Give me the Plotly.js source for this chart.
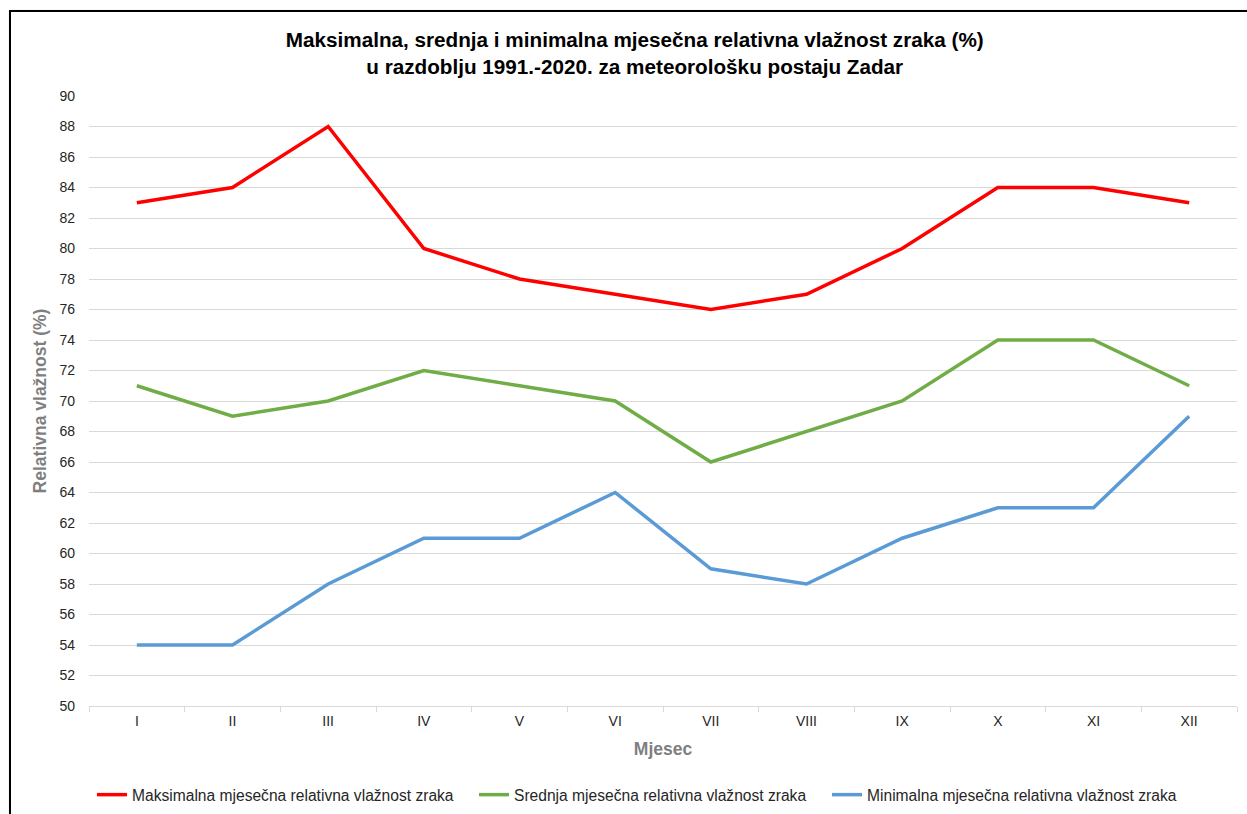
<!DOCTYPE html>
<html>
<head>
<meta charset="utf-8">
<script src="https://cdn.plot.ly/plotly-3.0.1.min.js"></script>
<style>
html,body{margin:0;padding:0;background:#fff;}
#wrap{position:relative;width:1247px;height:814px;overflow:hidden;}
#chart{width:1247px;height:814px;}
#frame{position:absolute;left:9px;top:10px;width:1260px;height:830px;border:2px solid #000;box-shadow:1px 1px 2px #999;pointer-events:none;}
</style>
</head>
<body>
<div id="wrap">
<div id="chart"></div>
<div id="frame"></div>
</div>
<script>
const months = ["I","II","III","IV","V","VI","VII","VIII","IX","X","XI","XII"];
const maxHum = [83,84,88,80,78,77,76,77,80,84,84,83];
const meanHum = [71,69,70,72,71,70,66,68,70,74,74,71];
const minHum = [54,54,58,61,61,64,59,58,61,63,63,69];
const seriesNames = [
  "Maksimalna mjesečna relativna vlažnost zraka",
  "Srednja mjesečna relativna vlažnost zraka",
  "Minimalna mjesečna relativna vlažnost zraka"
];
const colors = ["#FF0000","#70AD47","#5B9BD5"];
const vals = [maxHum, meanHum, minHum];
const legendIds = ["legend","legend2","legend3"];

const traces = vals.map((v,i)=>({
  x: months, y: v, type: "scatter", mode: "lines",
  name: seriesNames[i],
  legend: legendIds[i],
  line: {color: colors[i], width: 3.5}
}));

function legendAt(px){
  return {
    orientation: "h",
    x: px/1247, xref: "container", xanchor: "left",
    y: 1 - 795/814, yref: "container", yanchor: "middle",
    font: {size: 15.6, color: "#262626"},
    bgcolor: "rgba(0,0,0,0)"
  };
}

const layout = {
  width: 1247, height: 814,
  paper_bgcolor: "#fff", plot_bgcolor: "#fff",
  margin: {l: 89, r: 10, t: 96, b: 108},
  font: {family: "Liberation Sans, Arial, sans-serif", size: 14, color: "#262626"},
  title: {
    text: "Maksimalna, srednja i minimalna mjesečna relativna vlažnost zraka (%)<br>u razdoblju 1991.-2020. za meteorološku postaju Zadar",
    font: {family: "Liberation Sans, Arial, sans-serif", size: 20.7, color: "#000", weight: "bold"},
    x: 0.509, xanchor: "center", xref: "container",
    y: 1 - 47/814, yanchor: "middle", yref: "container"
  },
  xaxis: {
    type: "category",
    range: [-0.5, 11.5],
    showgrid: false,
    showline: true, linecolor: "#D9D9D9", linewidth: 1,
    ticks: "outside", ticklen: 5, tickcolor: "#D9D9D9",
    tickson: "boundaries",
    ticklabelstandoff: 2,
    tickfont: {size: 14, color: "#262626"},
    title: {text: "Mjesec", font: {size: 17.5, color: "#7F7F7F", weight: "bold"}, standoff: 14},
    zeroline: false
  },
  yaxis: {
    range: [50, 90],
    dtick: 2,
    showgrid: true, gridcolor: "#D9D9D9", gridwidth: 1,
    showline: false, zeroline: false,
    ticks: "", ticklabelstandoff: 13,
    tickfont: {size: 14, color: "#262626"},
    title: {text: "Relativna vlažnost (%)", font: {size: 17.5, color: "#7F7F7F", weight: "bold"}, standoff: 8}
  },
  showlegend: true,
  legend: legendAt(92),
  legend2: legendAt(474),
  legend3: legendAt(827)
};

Plotly.newPlot("chart", traces, layout, {displayModeBar: false, staticPlot: true});
</script>
</body>
</html>
